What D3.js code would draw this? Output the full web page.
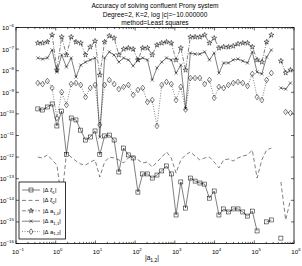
<!DOCTYPE html>
<html><head><meta charset="utf-8">
<script src="https://cdn.jsdelivr.net/npm/d3@7"></script>
<style>
body { margin: 0; background: #fff; }
text { font-family: "Liberation Sans", Arial, sans-serif; fill: #000; }
</style>
</head><body>
<svg id="chart" width="302" height="266"></svg>
<script>
// log10 of |a_{1,2}| for every sample
var logA = [-0.45, -0.33, -0.21, -0.09, 0.03, 0.15, 0.27, 0.39, 0.51, 0.63,
	0.75, 0.87, 0.99, 1.11, 1.23, 1.35, 1.47, 1.59, 1.71, 1.83,
	1.95, 2.07, 2.19, 2.31, 2.43, 2.55, 2.67, 2.79, 2.91, 3.03,
	3.15, 3.27, 3.39, 3.51, 3.63, 3.75, 3.87, 3.99, 4.11, 4.23,
	4.35, 4.47, 4.59, 4.71, 4.83, 4.95, 5.07, 5.19, 5.31, 5.43,
	5.55, 5.67, 5.79, 5.91];

// log10 of the errors (null = no value)
var dXi1 = [-9.77, -9.82, -9.68, -9.54, -10.56, -9.87, -11.88, -10.19, -10.28, -10.75,
	-11.21, -11.07, -10.79, -11.89, -11.02, -10.98, -11.21, -12.69, -11.58, -11.9,
	-12.04, -13.62, -12.78, -12.78, -12.97, -12.83, -12.64, -12.41, -12.78, -14.68,
	-13.15, -14.36, -12.97, -13.11, -13.2, -13.25, -13.9, -13.57, -14.68, -14.40,
	-14.54, -14.40, -14.40, -14.54, -14.73, -14.50, -15.42, null, -15.0, -14.91,
	null, -15.75, null, null];
var dXi2 = [-12.0, -12.04, -11.9, -12.13, -12.37, -13.99, -11.81, -12.0, -12.18, -12.32,
	-12.37, -12.23, -12.13, -12.92, -12.23, -12.0, -12.04, -12.13, -12.27, -12.04,
	-11.95, -12.13, -12.27, -12.23, -12.46, -12.23, -12.0, -11.76, -12.04, -12.74,
	-12.13, -11.9, -11.76, -11.95, -12.13, -12.04, -12.0, -12.23, -12.5, -12.13,
	-12.09, -12.18, -12.04, -11.95, -11.9, -11.67, -12.97, -12.13, -11.67, -11.58,
	null, -13.15, -14.91, -13.99];
var dA10 = [-6.72, -6.72, -6.67, -6.35, -7.97, -6.44, -7.27, -6.44, -6.67, -6.72,
	-7.27, -6.9, -6.63, -8.2, -6.67, -6.39, -6.49, -7.27, -7.0, -6.95,
	-7.0, -7.5, -6.95, -6.95, -7.27, -6.81, -6.72, -6.67, -6.72, -7.5,
	-6.95, -7.97, -6.44, -6.44, -6.44, -6.35, -6.72, -6.49, -6.95, -6.9,
	-6.9, -6.86, -6.76, -6.72, -6.72, -6.9, -7.5, -7.6, -6.67, -6.35,
	null, -7.55, -8.1, -7.97];
var dA11 = [-7.41, -7.46, -7.41, -7.04, -8.06, -7.27, -7.83, -7.41, -8.29, -7.74,
	-7.6, -7.5, -7.41, -11.07, -7.41, -7.13, -7.27, -7.6, -7.41, -7.5,
	-7.78, -7.5, -7.41, -7.5, -8.43, -7.87, -7.6, -7.41, -7.5, -8.11,
	-7.74, -9.75, -7.18, -7.23, -7.23, -7.13, -7.5, -7.18, -8.11, -7.64,
	-7.64, -7.5, -7.46, -7.55, -7.64, -7.13, -8.06, -8.15, -7.37, -7.04,
	null, -8.8, -8.85, -8.57];
var dA12 = [-8.57, -8.62, -8.48, -8.8, -10.19, -8.99, -9.59, -8.62, -8.57, -8.66,
	-9.22, -8.8, -8.66, -10.51, -8.66, -8.43, -8.62, -8.85, -8.75, -8.66,
	-9.12, -8.89, -8.8, -9.45, -9.36, -10.56, -8.66, -8.52, -8.62, -9.36,
	-8.75, -9.8, -8.34, -8.34, -8.34, -8.62, -8.43, -9.26, -8.75, -8.8,
	-8.66, -8.57, -8.52, -8.57, -8.71, -8.15, -9.22, -9.36, -8.43, -8.11,
	null, null, -9.91, -9.96];

var titleLines = ["Accuracy of solving confluent Prony system",
	"Degree=2, K=2, log |c|=\u221210.000000",
	"method=Least squares"];
var xTickExp = [-1, 0, 1, 2, 3, 4, 5, 6];
var yTickExp = [-16, -15, -14, -13, -12, -11, -10, -9, -8, -7, -6];

var series = [
	{ name: "\u03be", sub: "1", vals: dXi1, dash: null, marker: "square" },
	{ name: "\u03be", sub: "2", vals: dXi2, dash: "4,2.5", marker: null },
	{ name: "a", sub: "1,0", vals: dA10, dash: "4,1.5,1,1.5", marker: "star" },
	{ name: "a", sub: "1,1", vals: dA11, dash: null, marker: "x" },
	{ name: "a", sub: "1,2", vals: dA12, dash: "1,1.5", marker: "diamond" }
];

var svg = d3.select("#chart"),
	pLeft = 16, pRight = 294, pTop = 27.5, pBottom = 243.5;

var x = d3.scaleLog().domain([1e-1, 1e6]).range([pLeft, pRight]),
	y = d3.scaleLog().domain([1e-16, 1e-6]).range([pBottom, pTop]);

// frame
svg.append("rect")
	.attr("x", pLeft).attr("y", pTop)
	.attr("width", pRight - pLeft).attr("height", pBottom - pTop)
	.attr("fill", "#fff").attr("stroke", "#000").attr("stroke-width", 0.8);

// ticks, inside, on all four sides
var ticks = svg.append("g").attr("stroke", "#000").attr("stroke-width", 0.6);
xTickExp.forEach(function(e) {
	var px = x(Math.pow(10, e));
	ticks.append("line").attr("x1", px).attr("x2", px).attr("y1", pBottom).attr("y2", pBottom - 3);
	ticks.append("line").attr("x1", px).attr("x2", px).attr("y1", pTop).attr("y2", pTop + 3);
	if (e < 6) {
		for (var m = 2; m < 10; m++) {
			var mx = x(m * Math.pow(10, e));
			ticks.append("line").attr("x1", mx).attr("x2", mx).attr("y1", pBottom).attr("y2", pBottom - 1.6);
			ticks.append("line").attr("x1", mx).attr("x2", mx).attr("y1", pTop).attr("y2", pTop + 1.6);
		}
	}
});
yTickExp.forEach(function(e) {
	var py = y(Math.pow(10, e));
	ticks.append("line").attr("x1", pLeft).attr("x2", pLeft + 3).attr("y1", py).attr("y2", py);
	ticks.append("line").attr("x1", pRight).attr("x2", pRight - 3).attr("y1", py).attr("y2", py);
});

function powLabel(g, e, px, py, anchor) {
	var t = g.append("text").attr("x", px).attr("y", py)
		.attr("text-anchor", anchor).attr("font-size", 6.2);
	t.append("tspan").text("10");
	t.append("tspan").attr("dy", -3).attr("font-size", 4.4).text(e < 0 ? "\u2212" + (-e) : e);
	return t;
}

var labels = svg.append("g");
xTickExp.forEach(function(e) {
	powLabel(labels, e, x(Math.pow(10, e)) + 2, pBottom + 10, "middle");
});
yTickExp.forEach(function(e) {
	powLabel(labels, e, pLeft - 2, y(Math.pow(10, e)) + 2.5, "end");
});

// title
titleLines.forEach(function(s, i) {
	svg.append("text").attr("x", 155).attr("y", 8 + i * 8.5)
		.attr("text-anchor", "middle").attr("font-size", 6.6).text(s);
});

// x label |a_{1,2}|
var xl = svg.append("text").attr("x", 152).attr("y", 260)
	.attr("text-anchor", "middle").attr("font-size", 6.6);
xl.append("tspan").text("|a");
xl.append("tspan").attr("dy", 2).attr("font-size", 5).text("1,2");
xl.append("tspan").attr("dy", -2).text("|");

function drawMarker(g, type, cx, cy) {
	if (type === "square") {
		g.append("rect").attr("x", cx - 2).attr("y", cy - 2).attr("width", 4).attr("height", 4);
	} else if (type === "diamond") {
		g.append("path").attr("d", "M" + cx + "," + (cy - 2.8) + "L" + (cx + 2.1) + "," + cy +
			"L" + cx + "," + (cy + 2.8) + "L" + (cx - 2.1) + "," + cy + "Z");
	} else if (type === "star") {
		g.append("path").attr("transform", "translate(" + cx + "," + cy + ")")
			.attr("d", d3.symbol().type(d3.symbolStar).size(8)());
	} else if (type === "x") {
		g.append("path").attr("d", "M" + (cx - 1.6) + "," + (cy - 1.6) + "L" + (cx + 1.6) + "," + (cy + 1.6) +
			"M" + (cx - 1.6) + "," + (cy + 1.6) + "L" + (cx + 1.6) + "," + (cy - 1.6));
	}
}

var plot = svg.append("g");
series.forEach(function(s) {
	var pts = s.vals.map(function(v, i) { return { a: Math.pow(10, logA[i]), v: v }; });
	var line = d3.line()
		.defined(function(d) { return d.v !== null; })
		.x(function(d) { return x(d.a); })
		.y(function(d) { return y(Math.pow(10, d.v)); });
	plot.append("path").datum(pts)
		.attr("d", line)
		.attr("fill", "none").attr("stroke", "#000").attr("stroke-width", 0.5)
		.attr("stroke-dasharray", s.dash);
	if (s.marker) {
		var mg = plot.append("g").attr("fill", "none").attr("stroke", "#000").attr("stroke-width", 0.5);
		pts.forEach(function(d) {
			if (d.v !== null) drawMarker(mg, s.marker, x(d.a), y(Math.pow(10, d.v)));
		});
	}
});

// legend
var lg = svg.append("g");
lg.append("rect").attr("x", 19).attr("y", 182).attr("width", 46.5).attr("height", 57)
	.attr("fill", "#fff").attr("stroke", "#000").attr("stroke-width", 0.8);
series.forEach(function(s, i) {
	var ly = 190 + i * 10.4;
	lg.append("line").attr("x1", 22).attr("x2", 40).attr("y1", ly).attr("y2", ly)
		.attr("stroke", "#000").attr("stroke-width", 0.5).attr("stroke-dasharray", s.dash);
	if (s.marker) {
		var mg = lg.append("g").attr("fill", "none").attr("stroke", "#000").attr("stroke-width", 0.5);
		drawMarker(mg, s.marker, 31, ly);
	}
	var t = lg.append("text").attr("x", 43).attr("y", ly + 2).attr("font-size", 6);
	t.append("tspan").text("|\u0394 " + s.name);
	t.append("tspan").attr("dy", 1.8).attr("font-size", 4.4).text(s.sub);
	t.append("tspan").attr("dy", -1.8).text("|");
});
</script>
</body></html>
